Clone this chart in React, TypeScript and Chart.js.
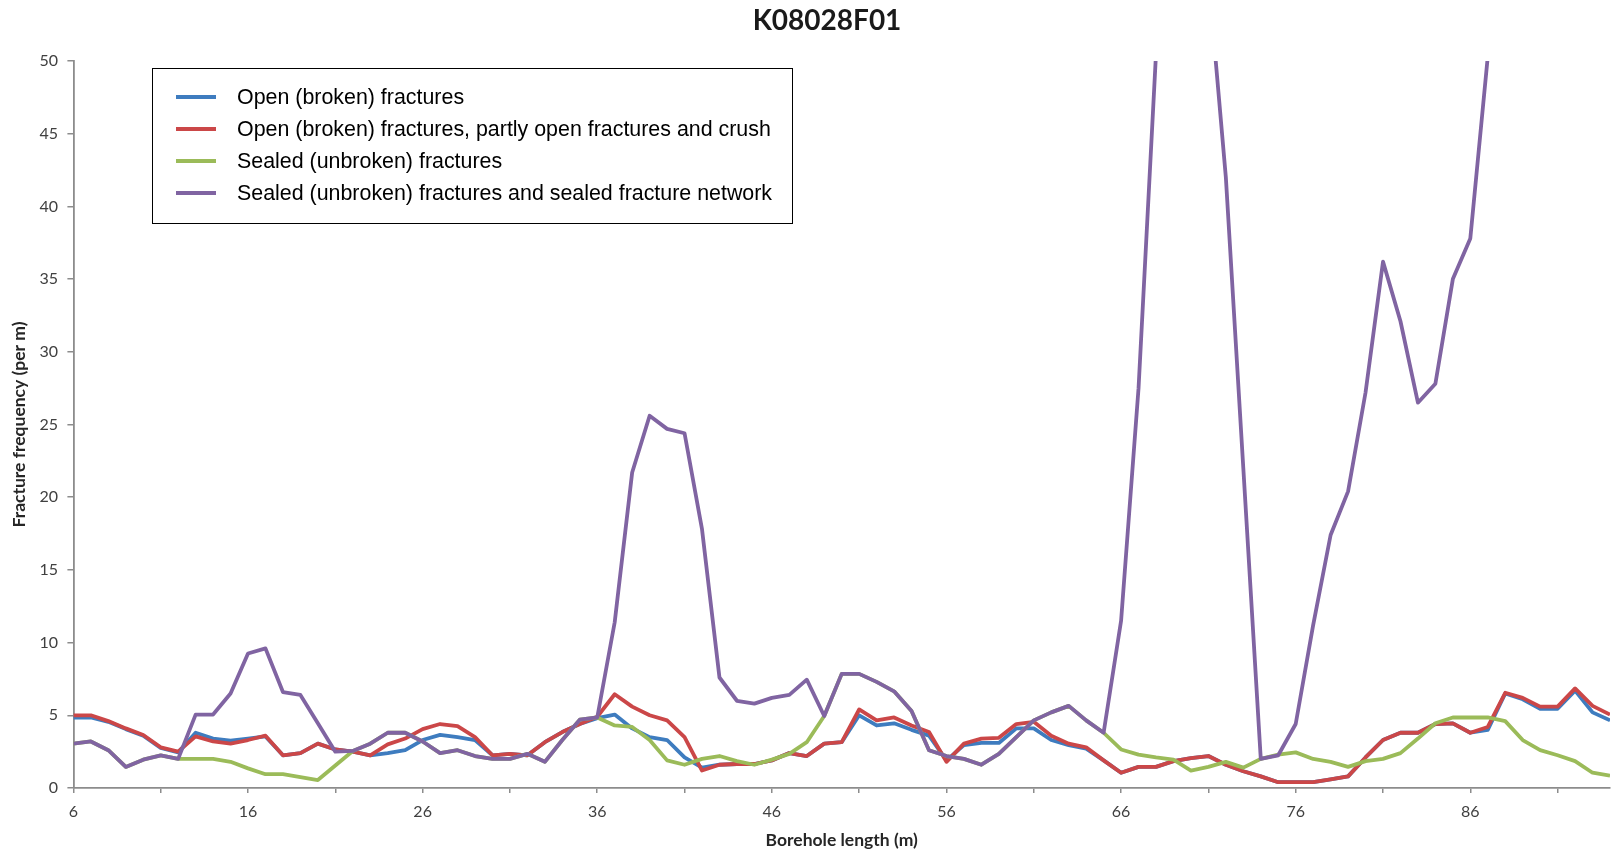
import React, { useEffect, useRef } from 'react';
import { Chart, registerables } from 'chart.js';

Chart.register(...registerables);

const TITLE = 'K08028F01';
const X_TITLE = 'Borehole length (m)';
const Y_TITLE = 'Fracture frequency (per m)';

const SERIES_LABELS = [
  'Open (broken) fractures',
  'Open (broken) fractures, partly open fractures and crush',
  'Sealed (unbroken) fractures',
  'Sealed (unbroken) fractures and sealed fracture network',
];

const SERIES_COLORS = ['#3E7CBF', '#CB4748', '#9BBB59', '#8064A2'];

const DEPTH = [
  6, 7, 8, 9, 10, 11, 12, 13, 14, 15, 16, 17, 18, 19, 20, 21, 22, 23, 24, 25,
  26, 27, 28, 29, 30, 31, 32, 33, 34, 35, 36, 37, 38, 39, 40, 41, 42, 43, 44, 45,
  46, 47, 48, 49, 50, 51, 52, 53, 54, 55, 56, 57, 58, 59, 60, 61, 62, 63, 64, 65,
  66, 67, 68, 69, 70, 71, 72, 73, 74, 75, 76, 77, 78, 79, 80, 81, 82, 83, 84, 85,
  86, 87, 88, 89, 90, 91, 92, 93, 94,
];

const OPEN = [
  4.85, 4.85, 4.55, 4.05, 3.6, 2.75, 2.45, 3.8, 3.4, 3.25, 3.4, 3.55, 2.25, 2.4, 3.05, 2.65, 2.5, 2.25, 2.4, 2.6,
  3.3, 3.65, 3.5, 3.3, 2.25, 2.35, 2.25, 3.15, 3.85, 4.4, 4.8, 5.05, 4.1, 3.5, 3.3, 2.1, 1.4, 1.6, 1.65, 1.65,
  1.9, 2.4, 2.2, 3.05, 3.15, 5.0, 4.3, 4.45, 4.0, 3.6, 1.9, 2.95, 3.1, 3.1, 4.1, 4.1, 3.3, 2.95, 2.7, 1.9,
  1.05, 1.45, 1.45, 1.85, 2.05, 2.2, 1.6, 1.15, 0.8, 0.4, 0.4, 0.4, 0.6, 0.8, 2.1, 3.3, 3.8, 3.8, 4.4, 4.45,
  3.8, 4.0, 6.5, 6.1, 5.45, 5.45, 6.7, 5.2, 4.65,
];

const OPEN_CRUSH = [
  5.0, 5.0, 4.6, 4.1, 3.65, 2.8, 2.5, 3.55, 3.2, 3.05, 3.3, 3.6, 2.25, 2.4, 3.05, 2.65, 2.5, 2.25, 3.0, 3.4,
  4.05, 4.4, 4.25, 3.5, 2.25, 2.35, 2.25, 3.15, 3.85, 4.4, 4.9, 6.45, 5.6, 5.0, 4.65, 3.5, 1.2, 1.6, 1.65, 1.65,
  1.9, 2.4, 2.2, 3.05, 3.15, 5.4, 4.65, 4.85, 4.3, 3.85, 1.8, 3.05, 3.4, 3.45, 4.4, 4.55, 3.6, 3.05, 2.8, 1.9,
  1.05, 1.45, 1.45, 1.85, 2.05, 2.2, 1.6, 1.15, 0.8, 0.4, 0.4, 0.4, 0.6, 0.8, 2.1, 3.3, 3.8, 3.8, 4.4, 4.45,
  3.8, 4.2, 6.55, 6.2, 5.6, 5.6, 6.85, 5.65, 5.05,
];

const SEALED = [
  3.05, 3.2, 2.6, 1.45, 1.95, 2.25, 2.0, 2.0, 2.0, 1.8, 1.35, 0.95, 0.95, 0.75, 0.55, 1.55, 2.55, 3.05, 3.8, 3.8,
  3.2, 2.4, 2.6, 2.2, 2.0, 2.0, 2.35, 1.8, 3.3, 4.7, 4.85, 4.3, 4.2, 3.3, 1.9, 1.6, 2.0, 2.2, 1.85, 1.6,
  1.95, 2.35, 3.15, 4.95, 7.85, 7.85, 7.3, 6.65, 5.3, 2.6, 2.2, 2.0, 1.6, 2.35, 3.5, 4.65, 5.2, 5.65, 4.65, 3.8,
  2.65, 2.3, 2.1, 1.95, 1.2, 1.45, 1.8, 1.4, 2.0, 2.3, 2.45, 2.0, 1.8, 1.45, 1.85, 2.0, 2.4, 3.4, 4.45, 4.85,
  4.85, 4.85, 4.6, 3.3, 2.6, 2.25, 1.85, 1.05, 0.85,
];

const SEALED_NETWORK = [
  3.05, 3.2, 2.6, 1.45, 1.95, 2.25, 2.0, 5.05, 5.05, 6.5, 9.25, 9.6, 6.6, 6.4, 4.45, 2.5, 2.55, 3.05, 3.8, 3.8,
  3.2, 2.4, 2.6, 2.2, 2.0, 2.0, 2.35, 1.8, 3.3, 4.7, 4.85, 11.4, 21.7, 25.6, 24.7, 24.4, 17.8, 7.6, 6.0, 5.8,
  6.2, 6.4, 7.45, 4.95, 7.85, 7.85, 7.3, 6.65, 5.3, 2.6, 2.2, 2.0, 1.6, 2.35, 3.5, 4.65, 5.2, 5.65, 4.65, 3.8,
  11.5, 27.5, 50.5, 60, 62, 55.8, 42, 22, 2.0, 2.25, 4.4, 11.2, 17.4, 20.4, 27.2, 36.2, 32.1, 26.5, 27.8, 35.0,
  37.8, 50.3, 58, 64, 60, 66, 62, 68, 63,
];

const X_TICKS = [6, 11, 16, 21, 26, 31, 36, 41, 46, 51, 56, 61, 66, 71, 76, 81, 86, 91];
const X_TICK_LABELS = ['6', '', '16', '', '26', '', '36', '', '46', '', '56', '', '66', '', '76', '', '86', ''];

const SERIES_VALUES = [OPEN, OPEN_CRUSH, SEALED, SEALED_NETWORK];
const DRAW_ORDER = [4, 3, 2, 1];

const AXIS_FONT = 'Lato, "Open Sans", sans-serif';
const AXIS_COLOR = '#8c8c8c';

const titleShift = {
  id: 'titleShift',
  afterLayout(chart: any) {
    const t = chart.titleBlock;
    if (t) {
      t.left = 44;
    }
  },
};

const boxLegend = {
  id: 'boxLegend',
  afterDraw(chart: any) {
    const ctx = chart.ctx as CanvasRenderingContext2D;
    ctx.save();
    const x0 = 152.5;
    const y0 = 68.5;
    const w = 640;
    const h = 155;
    ctx.fillStyle = '#ffffff';
    ctx.fillRect(x0, y0, w, h);
    ctx.strokeStyle = '#000000';
    ctx.lineWidth = 1;
    ctx.strokeRect(x0, y0, w, h);
    chart.data.datasets.forEach((ds: any, i: number) => {
      const y = 97 + i * 32;
      ctx.strokeStyle = ds.borderColor;
      ctx.lineWidth = 4;
      ctx.lineCap = 'butt';
      ctx.beginPath();
      ctx.moveTo(176, y);
      ctx.lineTo(216, y);
      ctx.stroke();
      ctx.fillStyle = '#000000';
      ctx.font = '21.4px "Liberation Sans", Arial, sans-serif';
      ctx.textBaseline = 'middle';
      ctx.textAlign = 'left';
      ctx.fillText(ds.label, 237, y + 1);
    });
    ctx.restore();
  },
};

export default function App() {
  const canvasRef = useRef<HTMLCanvasElement | null>(null);

  useEffect(() => {
    const canvas = canvasRef.current;
    if (!canvas) return;
    const chart = new Chart(canvas, {
      type: 'line',
      data: {
        datasets: SERIES_LABELS.map((label, i) => ({
          label,
          data: DEPTH.map((x, j) => ({ x, y: SERIES_VALUES[i][j] })),
          borderColor: SERIES_COLORS[i],
          backgroundColor: SERIES_COLORS[i],
          borderWidth: 3.8,
          pointRadius: 0,
          pointHoverRadius: 0,
          tension: 0,
          fill: false,
          clip: 0,
          order: DRAW_ORDER[i],
          borderJoinStyle: 'round' as const,
        })),
      },
      options: {
        responsive: false,
        animation: false,
        devicePixelRatio: 1,
        events: [],
        layout: { padding: { left: 26, right: 12, top: 0, bottom: 0 } },
        plugins: {
          legend: { display: false },
          tooltip: { enabled: false },
          title: {
            display: true,
            text: TITLE,
            color: '#1a1a1a',
            font: { family: AXIS_FONT, size: 28, weight: 'bold' },
            padding: { top: 4, bottom: 23.4 },
          },
        },
        scales: {
          x: {
            type: 'linear',
            min: 6,
            max: 94,
            afterBuildTicks: (scale: any) => {
              scale.ticks = X_TICKS.map((v) => ({ value: v }));
            },
            afterFit: (scale: any) => {
              scale.height = 68;
            },
            ticks: {
              autoSkip: false,
              maxRotation: 0,
              padding: 9,
              color: '#404040',
              font: { family: AXIS_FONT, size: 16 },
              callback: (_v: any, index: number) => X_TICK_LABELS[index],
            },
            grid: {
              drawOnChartArea: false,
              drawTicks: true,
              tickLength: 5,
              color: AXIS_COLOR,
              lineWidth: 1.5,
            },
            border: { color: AXIS_COLOR, width: 1.8 },
            title: {
              display: true,
              text: X_TITLE,
              color: '#262626',
              font: { family: AXIS_FONT, size: 17.5, weight: 'bold' },
              padding: { top: 8, bottom: 5.5 },
            },
          },
          y: {
            type: 'linear',
            min: 0,
            max: 50,
            afterFit: (scale: any) => {
              scale.width = 47.4;
            },
            ticks: {
              stepSize: 5,
              padding: 9.4,
              color: '#404040',
              font: { family: AXIS_FONT, size: 16 },
            },
            grid: {
              drawOnChartArea: false,
              drawTicks: true,
              tickLength: 6,
              color: AXIS_COLOR,
              lineWidth: 1.5,
            },
            border: { color: AXIS_COLOR, width: 1.8 },
            title: {
              display: true,
              text: Y_TITLE,
              color: '#262626',
              font: { family: AXIS_FONT, size: 17.5, weight: 'bold' },
              padding: { top: -16.8, bottom: 0 },
            },
          },
        },
      },
      plugins: [titleShift, boxLegend],
    } as any);
    return () => chart.destroy();
  }, []);

  return (
    <div style={{ position: 'absolute', left: 0, top: 0, width: 1622, height: 856, background: '#ffffff' }}>
      <canvas ref={canvasRef} width={1622} height={856} style={{ display: 'block', width: 1622, height: 856 }} />
    </div>
  );
}
